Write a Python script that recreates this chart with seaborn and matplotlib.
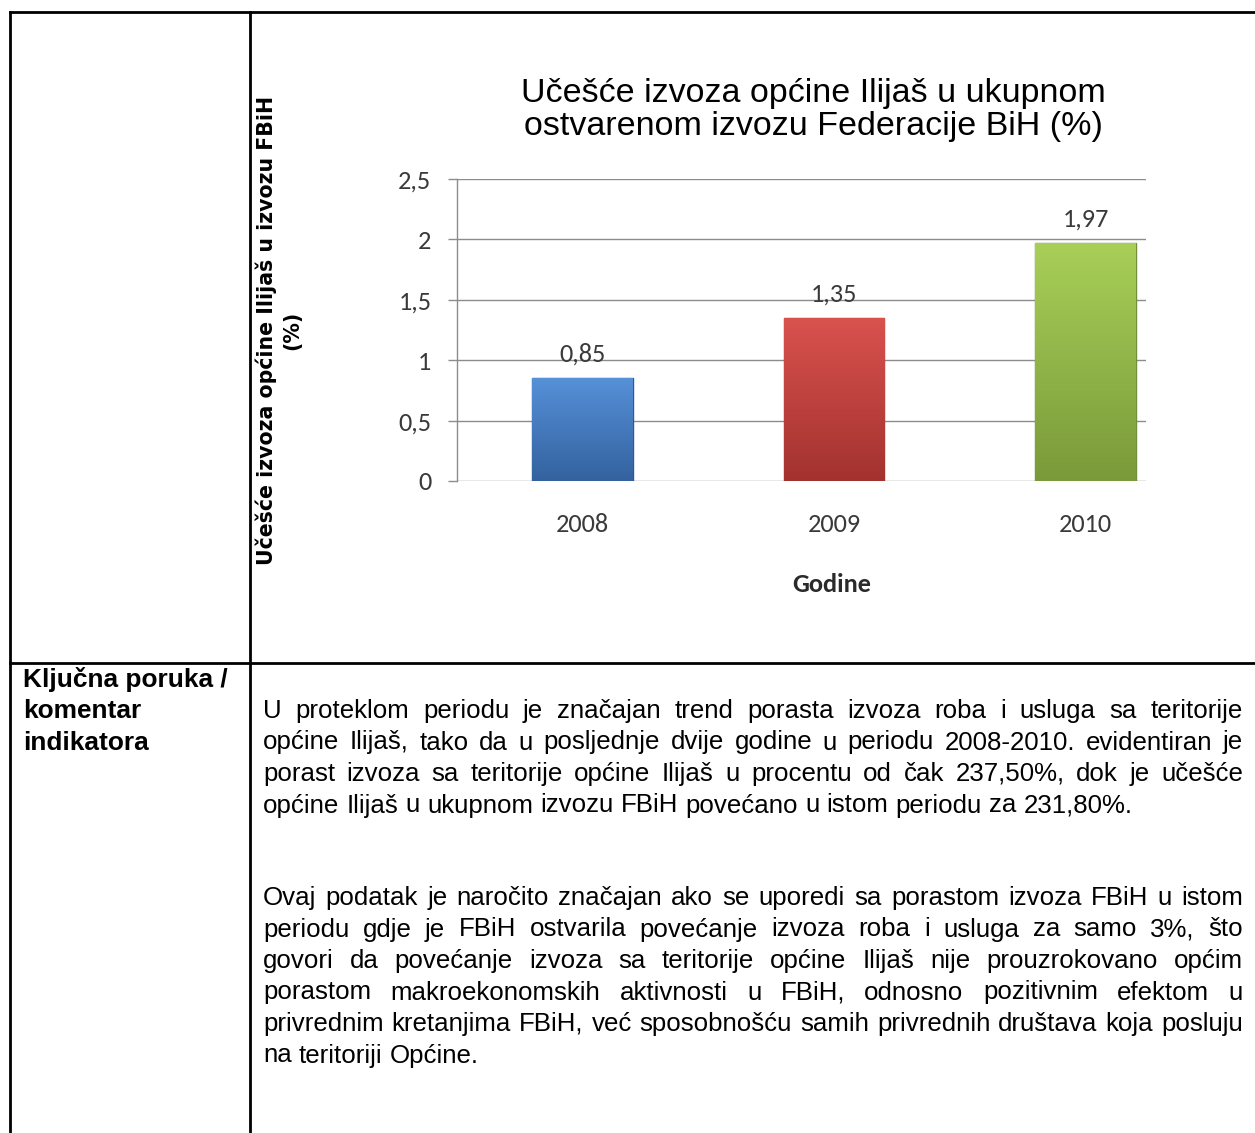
import matplotlib
matplotlib.use('Agg')
import matplotlib.pyplot as plt
from matplotlib.colors import LinearSegmentedColormap
from matplotlib.ticker import FixedLocator, FixedFormatter
import seaborn as sns
import numpy as np
import pandas as pd

# data
years = ['2008', '2009', '2010']
shares = [0.85, 1.35, 1.97]
share_labels = ['0,85', '1,35', '1,97']
y_ticks = [0, 0.5, 1, 1.5, 2, 2.5]
y_tick_labels = ['0', '0,5', '1', '1,5', '2', '2,5']

chart_title = 'Učešće izvoza općine Ilijaš u ukupnom\nostvarenom izvozu Federacije BiH (%)'
y_title = 'Učešće izvoza općine Ilijaš u izvozu FBiH\n(%)'
x_title = 'Godine'

key_label = ['Ključna poruka /', 'komentar', 'indikatora']
para1 = [
    'U proteklom periodu je značajan trend porasta izvoza roba i usluga sa teritorije',
    'općine Ilijaš, tako da u posljednje dvije godine u periodu 2008-2010. evidentiran je',
    'porast izvoza sa teritorije općine Ilijaš u procentu od čak 237,50%, dok je učešće',
    'općine Ilijaš u ukupnom izvozu FBiH povećano u istom periodu za 231,80%.',
]
para2 = [
    'Ovaj podatak je naročito značajan ako se uporedi sa porastom izvoza FBiH u istom',
    'periodu gdje je FBiH ostvarila povećanje izvoza roba i usluga za samo 3%, što',
    'govori da povećanje izvoza sa teritorije općine Ilijaš nije prouzrokovano općim',
    'porastom makroekonomskih aktivnosti u FBiH, odnosno pozitivnim efektom u',
    'privrednim kretanjima FBiH, već sposobnošću samih privrednih društava koja posluju',
    'na teritoriji Općine.',
]

# bar colours (top, bottom of gradient)
bar_tops = ['#5690d8', '#d9524e', '#a8cf58']
bar_bottoms = ['#33629e', '#a3322f', '#7a9a3a']
bar_edges = ['#2f5a90', '#96302c', '#718f36']

sns.set_style('white')
plt.rcParams['font.family'] = ['Carlito', 'Lato', 'DejaVu Sans']

W, H = 1255, 1133
fig = plt.figure(figsize=(W / 100, H / 100), dpi=100)


def fx(px):
    return px / W


def fy(py):
    return 1 - py / H


# table borders
line_kw = dict(color='black', lw=2.0, transform=fig.transFigure, solid_capstyle='projecting')
fig.add_artist(plt.Line2D([fx(10), fx(W)], [fy(12), fy(12)], **line_kw))
fig.add_artist(plt.Line2D([fx(10), fx(10)], [fy(12), fy(H + 5)], **line_kw))
fig.add_artist(plt.Line2D([fx(250), fx(250)], [fy(12), fy(H + 5)], **line_kw))
fig.add_artist(plt.Line2D([fx(10), fx(W)], [fy(663), fy(663)], **line_kw))

# chart
ax = fig.add_axes([fx(457), fy(481), (1146 - 457) / W, (481 - 179) / H])
df = pd.DataFrame({'year': years, 'share': shares})
sns.barplot(data=df, x='year', y='share', hue='year', palette=bar_tops,
            legend=False, width=0.4, saturation=1, ax=ax, zorder=3)

for patch, top, bot, edge in zip(ax.patches, bar_tops, bar_bottoms, bar_edges):
    x0, y0 = patch.get_x(), patch.get_y()
    w, h = patch.get_width(), patch.get_height()
    cmap = LinearSegmentedColormap.from_list('g', [top, bot])
    grad = np.linspace(0, 1, 100)[:, None] * np.ones((1, 20))
    img = ax.imshow(grad, cmap=cmap, extent=[x0, x0 + w, y0, y0 + h],
                    aspect='auto', origin='upper', zorder=4)
    img.set_clip_path(patch)
    patch.set_edgecolor(edge)
    patch.set_linewidth(1.0)

for cont, lab in zip(ax.containers, share_labels):
    ax.bar_label(cont, labels=[lab], padding=9, fontsize=19, color='#3a3a3a')

ax.set_xlim(-0.5, 2.24)
ax.set_ylim(0, 2.5)
ax.yaxis.set_major_locator(FixedLocator(y_ticks))
ax.yaxis.set_major_formatter(FixedFormatter(y_tick_labels))
ax.grid(axis='y', color='#8c8c8c', lw=1.0, zorder=0)
ax.grid(axis='x', visible=False)
ax.set_axisbelow(True)
for s in ['top', 'right', 'bottom']:
    ax.spines[s].set_visible(False)
ax.spines['left'].set_color('#8c8c8c')
ax.spines['left'].set_linewidth(1.0)
ax.tick_params(axis='y', length=6.5, width=1, color='#8c8c8c', pad=12,
               labelsize=19, labelcolor='#3a3a3a', left=True)
ax.tick_params(axis='x', length=0, pad=23, labelsize=19, labelcolor='#3a3a3a')

ax.set_xlabel(x_title, fontsize=19, fontweight='bold', color='#2a2a2a')
ax.xaxis.label.set_va('center')
ax.xaxis.set_label_coords((832 - 457) / (1146 - 457), (481 - 585) / (481 - 179))
ax.set_ylabel(y_title, fontsize=14.8, fontweight='bold', color='black',
              family=['DejaVu Sans'], linespacing=1.3)
ax.yaxis.label.set_va('center')
ax.yaxis.label.set_ha('center')
ax.yaxis.set_label_coords((279 - 457) / (1146 - 457), 0.5)

fig.text(fx(813), fy(110), chart_title, ha='center', va='center',
         fontsize=24.5, family=['Liberation Sans'], linespacing=1.1, color='black')

# text cells, justified word by word
renderer = fig.canvas.get_renderer()
body_font = ['Liberation Sans', 'DejaVu Sans']


def natural_width(line, size):
    t = fig.text(0, 0, line, fontsize=size, family=body_font)
    wd = t.get_window_extent(renderer).width
    t.remove()
    return wd


justified = para1[:-1] + para2[:-1]
longest = max(natural_width(l, 20) for l in justified)
size_a = 20 * 975 / longest
size_b = 20 * 900 / natural_width(para1[-1], 20)
body_size = min(size_a, size_b)
txt_kw = dict(fontsize=body_size, family=body_font, color='black', va='baseline')

space_w = natural_width('a a', body_size) - natural_width('aa', body_size)


def put_line(line, left, right, base, justify):
    words = line.split(' ')
    texts = [fig.text(0, fy(base), w, **txt_kw) for w in words]
    widths = [t.get_window_extent(renderer).width for t in texts]
    if justify and len(words) > 1:
        gap = (right - left - sum(widths)) / (len(words) - 1)
    else:
        gap = space_w
    x = left
    for t, w in zip(texts, widths):
        t.set_x(fx(x))
        x += w + gap


for i, line in enumerate(para1):
    put_line(line, 263, 1243, 718 + i * 31.5, i < len(para1) - 1)
for i, line in enumerate(para2):
    put_line(line, 263, 1243, 905 + i * 31.5, i < len(para2) - 1)

for i, line in enumerate(key_label):
    fig.text(fx(23), fy(686.5 + i * 31.5), line, fontsize=18.9, fontweight='bold',
             family=['Liberation Sans'], color='black', va='baseline')

fig.savefig('out.png', dpi=100)
